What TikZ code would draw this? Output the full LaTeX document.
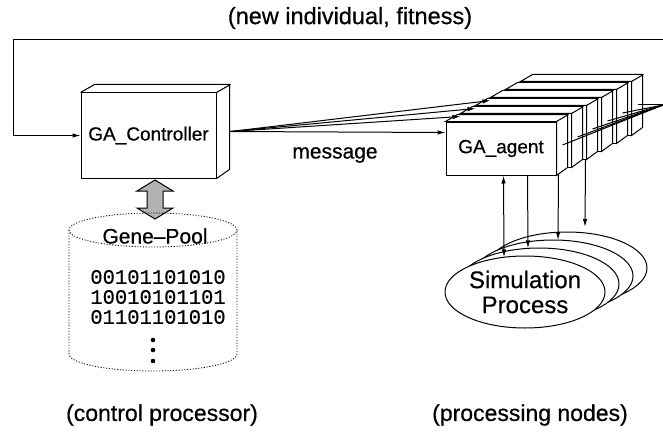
\documentclass[tikz,border=0pt]{standalone}
\usepackage{fontspec}
\setmainfont{Liberation Sans}[FakeBold=0.5]
\setmonofont{Liberation Mono}[FakeBold=0.4]
\usetikzlibrary{arrows.meta,shapes.geometric,calc}
\begin{document}
\begin{tikzpicture}[x=1pt,y=-1pt,line width=1pt,
  tip/.tip={Latex[length=8pt,width=4.5pt]},
  arr/.style={-tip},
  dblarr/.style={tip-tip},
  agentface/.style={draw,fill=white,inner sep=0pt,minimum width=110pt,minimum height=53pt},
  simell/.style={ellipse,draw,fill=white,inner sep=0pt,minimum width=160pt,minimum height=72pt},
  dotline/.style={line width=0.8pt,dash pattern=on 1.1pt off 1.7pt},
  lbl/.style={font=\fontsize{23}{27}\selectfont},
]
\useasboundingbox (0,0) rectangle (663,433);
\fill[white] (0,0) rectangle (663,433);

% control processor box
\node[draw,fill=white,inner sep=0pt,minimum width=135pt,minimum height=85pt,
      font=\fontsize{19}{22}\selectfont] (ctrl) at (148.5,135.5) {GA\_Controller};
\draw (ctrl.north west) -- ++(14,-8) -- ++(135,0) -- ++(0,85) -- (ctrl.south east);
\draw (ctrl.north east) -- ++(14,-8);

% stack of agent boxes, back to front
\foreach \k in {5,4,3,2,1}{
  \node[agentface] (agent\k) at ({501+15*\k},{148.5-8*\k}) {};
  \draw[fill=white] (agent\k.north west) -- ++(12,-7) -- ++(110,0) -- ++(0,53)
        -- (agent\k.south east) -- (agent\k.north east) -- cycle;
  \draw (agent\k.north east) -- ++(12,-7);
}
\node[agentface,font=\fontsize{19}{22}\selectfont] (agent0) at (501,148.5) {GA\_agent};
\draw[fill=white] (agent0.north west) -- ++(12,-7) -- ++(110,0) -- ++(0,53)
      -- (agent0.south east) -- (agent0.north east) -- cycle;
\draw (agent0.north east) -- ++(12,-7);

% messages from the controller to the agents
\coordinate (out) at ($(ctrl.east)+(14,-4)$);
\draw[arr] (out) -- ($(agent0.north west)+(0,11)$);
\foreach \k in {1,2,3}
  \draw[arr] (out) -- ($(agent\k.north west)+(0,3)$);
\node[font=\fontsize{21}{24}\selectfont] (msg) at (335,155) {message};

% results returned from the agents
\coordinate (fan) at (663,105);
\foreach \k in {0,...,5}
  \draw ($(agent\k.east)+(6,-3.5)$) -- (fan);
\coordinate (ret) at (663,40);
\coordinate (corner) at (13,40);
\draw[arr] (ret) -- (corner) |- (ctrl.west);
\node[font=\fontsize{23.5}{27}\selectfont] (title) at (350,18) {(new individual, fitness)};

% exchange between controller and gene pool
\fill[gray!60] (155,180) -- (173,191) -- (163,191) -- (163,208) -- (173,208) -- (155,219)
      -- (137,208) -- (147,208) -- (147,191) -- (137,191) -- cycle;
\draw (155,180) -- (173,191) -- (163,191) -- (163,208) -- (173,208) -- (155,219)
      -- (137,208) -- (147,208) -- (147,191) -- (137,191) -- cycle;

% gene pool cylinder
\coordinate (gp) at (153,230);
\draw[dotline] (gp) ellipse[x radius=84pt,y radius=17pt];
\draw[dotline] ($(gp)+(-84,0)$) -- ++(0,124)
      arc[start angle=180,end angle=360,x radius=84pt,y radius=17pt] -- ++(0,-124);
\node[font=\fontsize{21}{24}\selectfont] (genepool) at (155,236) {Gene--Pool};
\node[font=\ttfamily\fontsize{20.5}{20}\selectfont,align=center] (bits) at (158,297)
      {00101101010\\10010101101\\01101101010};
\foreach \y in {340,350,361} \fill (153,\y) circle[radius=2.3pt];

% simulation processes
\foreach \k in {3,2,1}
  \node[simell] (sim\k) at ({525+14*\k},{292-8*\k}) {};
\node[simell,align=center,font=\fontsize{24}{25}\selectfont] (sim0) at (525,292)
      {Simulation\\Process};

\draw[dblarr] ([xshift=58pt]agent0.south west) -- ([xshift=-21pt,yshift=34.7pt]sim0.center);
\draw[arr] ([xshift=82pt]agent0.south west) -- ([xshift=-11pt,yshift=35.7pt]sim1.center);
\draw[arr] ([xshift=2pt,yshift=1.2pt]agent0.south east) -- ([xshift=5pt,yshift=35.9pt]sim2.center);
\draw[arr] ([xshift=-1pt]agent2.south east) -- ([xshift=18pt,yshift=41pt]sim3.center);

% captions
\node[lbl] (lctrl) at (162,415) {(control processor)};
\node[lbl] (lnodes) at (530,415) {(processing nodes)};
\end{tikzpicture}
\end{document}
